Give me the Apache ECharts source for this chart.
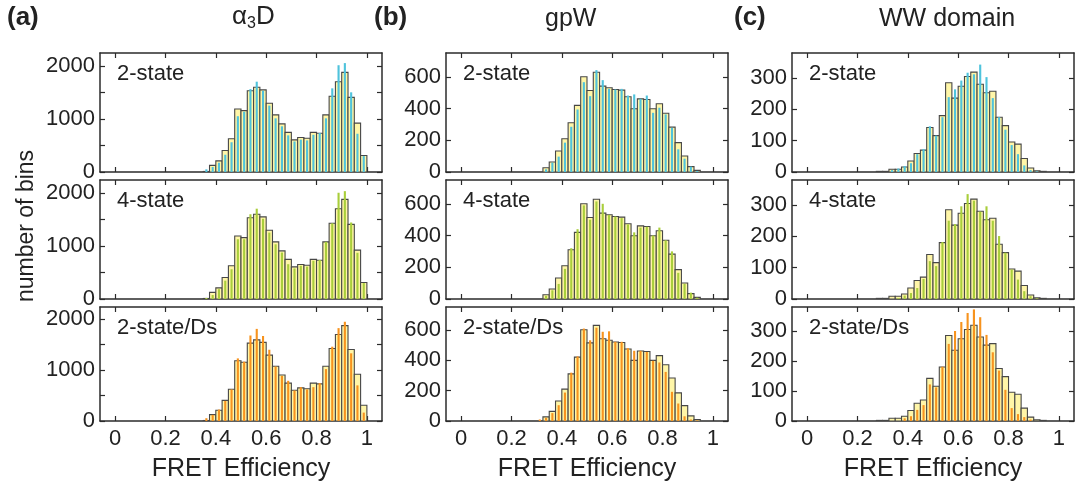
<!DOCTYPE html>
<html>
<head>
<meta charset="utf-8">
<script src="https://cdn.jsdelivr.net/npm/echarts@6/dist/echarts.min.js"></script>
<style>
html, body { margin: 0; padding: 0; background: #fff; }
#chart { width: 1076px; height: 483px; }
</style>
</head>
<body>
<div id="chart"></div>
<script>
// FRET efficiency bin centres (bin width 0.025)
const binCenters = [
  0.0125, 0.0375, 0.0625, 0.0875, 0.1125, 0.1375, 0.1625, 0.1875, 0.2125, 0.2375,
  0.2625, 0.2875, 0.3125, 0.3375, 0.3625, 0.3875, 0.4125, 0.4375, 0.4625, 0.4875,
  0.5125, 0.5375, 0.5625, 0.5875, 0.6125, 0.6375, 0.6625, 0.6875, 0.7125, 0.7375,
  0.7625, 0.7875, 0.8125, 0.8375, 0.8625, 0.8875, 0.9125, 0.9375, 0.9625, 0.9875
];
const xTicks = [0, 0.2, 0.4, 0.6, 0.8, 1];

// alpha3D: measured histogram and model histograms
const expA = [0,0,0,0,0,0,0,0,0,0, 0,0,0,0,10,125,210,405,625,1185,
  1155,1530,1595,1545,1295,1075,905,745,605,650, 635,745,730,1075,1425,1700,1875,1405,920,310];
const twoStateA = [0,0,0,0,0,0,0,0,0,0, 0,0,0,0,50,95,175,325,560,1050,
  1135,1560,1700,1530,1250,1010,860,690,575,610, 595,700,735,1010,1575,2010,2050,1500,720,300];
const fourStateA = [0,0,0,0,0,0,0,0,0,0, 0,0,0,0,20,75,185,345,560,1125,
  1125,1595,1700,1510,1250,1030,875,655,575,625, 610,720,735,1075,1425,2000,2030,1440,870,300];
const twoStateDsA = [0,0,0,0,0,0,0,0,0,0, 0,0,0,0,55,120,225,395,620,1230,
  1165,1680,1810,1670,1400,1070,885,790,600,665, 620,665,745,1020,1460,1825,1950,1330,700,165];

// gpW
const expB = [0,0,0,0,0,0,0,0,0,0, 0,0,0,27,63,132,210,310,420,600,
  514,629,541,531,520,516,474,399,461,457, 399,430,370,283,185,101,34,10,0,0];
const twoStateB = [0,0,0,0,0,0,0,0,0,0, 0,0,0,17,59,97,185,285,394,566,
  478,642,579,524,520,524,482,489,461,482, 373,405,363,279,143,84,34,6,0,0];
const fourStateB = [0,0,0,0,0,0,0,0,0,0, 0,0,0,20,55,95,190,320,440,590,
  500,615,600,530,520,510,470,420,450,455, 400,450,370,300,165,95,40,8,0,0];
const twoStateDsB = [0,0,0,0,0,0,0,0,0,0, 0,0,10,21,52,104,187,318,425,608,
  531,614,587,590,521,521,479,462,462,454, 396,385,323,192,115,31,10,4,0,0];

// WW domain
const expC = [0,0,0,0,0,0,0,0,0,0, 0,2,2,9,9,16,35,59,70,142,
  116,180,285,236,274,305,319,280,253,258, 175,148,96,89,43,13,4,2,0,0];
const twoStateC = [0,0,0,0,0,0,0,0,0,0, 0,0,0,6,11,19,28,57,73,146,
  116,175,239,264,292,317,312,343,303,236, 175,135,86,57,21,6,2,0,0,0];
const fourStateC = [0,0,0,0,0,0,0,0,0,0, 0,0,0,0,3,11,19,35,64,121,
  105,182,250,239,296,335,314,279,296,250, 201,148,94,62,25,9,2,0,0,0];
const twoStateDsC = [0,0,0,0,0,0,0,0,0,0, 0,0,0,0,0,9,16,37,53,122,
  112,181,257,300,330,360,372,346,287,229, 168,104,43,23,13,5,0,0,0,0];

const rowLabels = ['2-state', '4-state', '2-state/Ds'];
const modelColors = ['#4FC3DC', '#A9CE3B', '#F7931E'];

const columns = [
  { exp: expA, models: [twoStateA, fourStateA, twoStateDsA], yMax: 2240, yTicks: [0, 500, 1000, 1500, 2000], yLabels: [0, 1000, 2000] },
  { exp: expB, models: [twoStateB, fourStateB, twoStateDsB], yMax: 750, yTicks: [0, 200, 400, 600], yLabels: [0, 200, 400, 600] },
  { exp: expC, models: [twoStateC, fourStateC, twoStateDsC], yMax: 380, yTicks: [0, 100, 200, 300], yLabels: [0, 100, 200, 300] }
];

const FONT = '"Liberation Sans", Arial, Helvetica, sans-serif';
const colLeft = [100, 446, 792];
const gridW = 282;
const rowTop = [53, 180, 307];
const rowH = [119, 119, 120];
const BIN_HALF = 0.0125;
const MODEL_HALF = 0.0042;

function rectItem(halfW, style) {
  return function (params, api) {
    const x = api.value(0), y = api.value(1);
    if (!y) return null;
    const p0 = api.coord([x - halfW, 0]);
    const p1 = api.coord([x + halfW, y]);
    return {
      type: 'rect',
      shape: { x: p0[0], y: p1[1], width: p1[0] - p0[0], height: p0[1] - p1[1] },
      style: style
    };
  };
}

const plain = v => String(v);
const grid = [], xAxis = [], yAxis = [], series = [], graphic = [];
const frameLine = { show: true, onZero: false, lineStyle: { color: '#2b2b2b', width: 1.5 } };
const tickStyle = { color: '#2b2b2b', width: 1.2 };

columns.forEach((col, c) => {
  for (let r = 0; r < 3; r++) {
    const g = grid.length;
    grid.push({ left: colLeft[c], top: rowTop[r], width: gridW, height: rowH[r] });
    const bottomRow = r === 2;
    // bottom / top x axes
    xAxis.push({
      type: 'value', gridIndex: g, min: -0.06, max: 1.06, position: 'bottom',
      axisLine: frameLine, splitLine: { show: false },
      axisTick: { show: true, inside: true, length: 5, customValues: xTicks, lineStyle: tickStyle },
      axisLabel: { show: bottomRow, customValues: xTicks, formatter: plain, fontFamily: FONT, fontSize: 22, color: '#222', margin: 7 },
      name: bottomRow ? 'FRET Efficiency' : '', nameLocation: 'middle', nameGap: 36,
      nameTextStyle: { fontFamily: FONT, fontSize: 25, color: '#222' }
    });
    xAxis.push({
      type: 'value', gridIndex: g, min: -0.06, max: 1.06, position: 'top',
      axisLine: frameLine, splitLine: { show: false },
      axisTick: { show: true, inside: true, length: 5, customValues: xTicks, lineStyle: tickStyle },
      axisLabel: { show: false }
    });
    // left / right y axes
    yAxis.push({
      type: 'value', gridIndex: g, min: 0, max: col.yMax, position: 'left',
      axisLine: frameLine, splitLine: { show: false },
      axisTick: { show: true, inside: true, length: 5, customValues: col.yTicks, lineStyle: tickStyle },
      axisLabel: { show: true, customValues: col.yLabels, formatter: plain, fontFamily: FONT, fontSize: 22, color: '#222', margin: 5 }
    });
    yAxis.push({
      type: 'value', gridIndex: g, min: 0, max: col.yMax, position: 'right',
      axisLine: frameLine, splitLine: { show: false },
      axisTick: { show: true, inside: true, length: 5, customValues: col.yTicks, lineStyle: tickStyle },
      axisLabel: { show: false }
    });
    const xi = 2 * g, yi = 2 * g;
    series.push({
      type: 'custom', xAxisIndex: xi, yAxisIndex: yi, clip: true, silent: true,
      renderItem: rectItem(BIN_HALF, { fill: '#FFF6A8', stroke: '#474747', lineWidth: 1.1 }),
      data: binCenters.map((x, k) => [x, col.exp[k]]), z: 2
    });
    series.push({
      type: 'custom', xAxisIndex: xi, yAxisIndex: yi, clip: true, silent: true,
      renderItem: rectItem(MODEL_HALF, { fill: modelColors[r] }),
      data: binCenters.map((x, k) => [x, col.models[r][k]]), z: 3
    });
    graphic.push({
      type: 'text', left: colLeft[c] + 17, top: rowTop[r] + 10, z: 10,
      style: { text: rowLabels[r], font: '22px ' + FONT, fill: '#222' }
    });
  }
});

// panel letters and titles
const titleFont = '25px ' + FONT;
const boldFont = 'bold 26px ' + FONT;
graphic.push(
  { type: 'text', left: 7, top: 5, style: { text: '(a)', font: boldFont, fill: '#222' } },
  { type: 'text', left: 374, top: 5, style: { text: '(b)', font: boldFont, fill: '#222' } },
  { type: 'text', left: 734, top: 5, style: { text: '(c)', font: boldFont, fill: '#222' } },
  {
    type: 'text', left: 232, top: 4,
    style: {
      text: '{a|α}{s|3}{d|D}', fill: '#222',
      rich: {
        a: { fontFamily: FONT, fontSize: 26, lineHeight: 30, fill: '#222' },
        s: { fontFamily: FONT, fontSize: 16, lineHeight: 13, verticalAlign: 'bottom', fill: '#222' },
        d: { fontFamily: FONT, fontSize: 26, lineHeight: 30, fill: '#222' }
      }
    }
  },
  { type: 'text', left: 545, top: 7, style: { text: 'gpW', font: titleFont, fill: '#222' } },
  { type: 'text', left: 879, top: 7, style: { text: 'WW domain', font: titleFont, fill: '#222' } },
  {
    type: 'text', x: 27, y: 226, rotation: Math.PI / 2,
    style: { text: 'number of bins', font: '23px ' + FONT, fill: '#222', align: 'center', verticalAlign: 'middle' }
  }
);

const chart = echarts.init(document.getElementById('chart'), null, { renderer: 'canvas' });
chart.setOption({
  animation: false,
  backgroundColor: '#ffffff',
  grid: grid,
  xAxis: xAxis,
  yAxis: yAxis,
  series: series,
  graphic: graphic
});
</script>
</body>
</html>
